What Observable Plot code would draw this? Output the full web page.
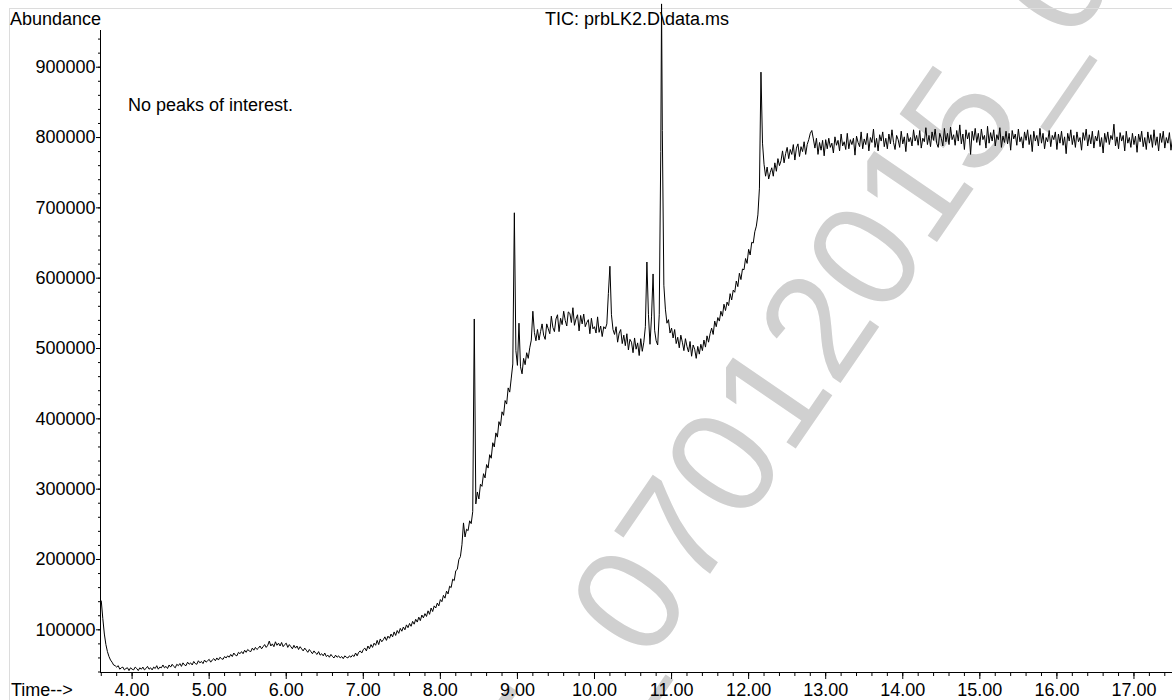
<!DOCTYPE html>
<html>
<head>
<meta charset="utf-8">
<script src="https://cdn.jsdelivr.net/npm/d3@7"></script>
<script src="https://cdn.jsdelivr.net/npm/@observablehq/plot@0.6"></script>
<style>
  html, body { margin: 0; padding: 0; background: #fff; }
  #wrap { position: relative; width: 1172px; height: 700px; overflow: hidden; background: #fff;
          font-family: "Liberation Sans", Arial, Helvetica, sans-serif; color: #000; }
  #wm { position: absolute; left: 0; top: 0; z-index: 0; }
  #pageframe { position: absolute; left: 9px; top: 8px; width: 2000px; height: 2000px;
               border-top: 1px solid #dcdcdc; border-left: 1px solid #dcdcdc; z-index: 1; }
  #chart { position: absolute; left: 0; top: 0; z-index: 2; }
  .lbl { position: absolute; font-size: 18px; line-height: 18px; white-space: nowrap; z-index: 3; }
</style>
</head>
<body>
<div id="wrap">
  <svg id="wm" width="1172" height="700">
    <text transform="translate(223.6,1284) rotate(-55.6)" font-family="Liberation Sans, Arial, sans-serif"
          font-size="150" fill="#d0d0d0">07012015_07012015_07012015</text>
  </svg>
  <div id="pageframe"></div>
  <div id="chart"></div>
  <span class="lbl" id="ylab" style="left:10px;top:10px;">Abundance</span>
  <span class="lbl" id="title" style="left:545px;top:10px;">TIC: prbLK2.D\data.ms</span>
  <span class="lbl" id="note" style="left:128px;top:96px;">No peaks of interest.</span>
  <span class="lbl" id="xlab" style="left:11px;top:681px;">Time--&gt;</span>
</div>
<script>
// Total ion chromatogram: [retention time (min), abundance (thousands of counts)]
const ticEarly = [
[3.60,141],[3.62,116],[3.64,94],[3.66,79],[3.68,69],[3.70,62],[3.72,57],[3.74,54],[3.76,50],[3.78,49],
[3.80,47],[3.82,49],[3.84,44],[3.86,46],[3.88,47],[3.90,43],[3.92,45],[3.94,46],[3.96,42],[3.98,46],
[4.00,44],[4.02,43],[4.04,47],[4.06,45],[4.08,42],[4.10,46],[4.12,44],[4.14,47],[4.16,43],[4.18,45],
[4.20,48],[4.22,44],[4.24,46],[4.26,43],[4.28,47],[4.30,45],[4.32,49],[4.34,44],[4.36,47],[4.38,46],
[4.40,50],[4.42,46],[4.44,48],[4.46,45],[4.48,50],[4.50,47],[4.52,51],[4.54,48],[4.56,46],[4.58,51],
[4.60,49],[4.62,52],[4.64,48],[4.66,53],[4.68,50],[4.70,49],[4.72,54],[4.74,51],[4.76,53],[4.78,50],
[4.80,55],[4.82,52],[4.84,51],[4.86,56],[4.88,53],[4.90,55],[4.92,52],[4.94,57],[4.96,54],[4.98,56],
[5.00,58],[5.02,54],[5.04,57],[5.06,59],[5.08,56],[5.10,60],[5.12,57],[5.14,61],[5.16,59],[5.18,58],
[5.20,62],[5.22,60],[5.24,63],[5.26,61],[5.28,65],[5.30,62],[5.32,67],[5.34,64],[5.36,63],[5.38,68],
[5.40,66],[5.42,69],[5.44,66],[5.46,71],[5.48,68],[5.50,72],[5.52,70],[5.54,69],[5.56,74],[5.58,71],
[5.60,75],[5.62,72],[5.64,74],[5.66,77],[5.68,73],[5.70,76],[5.72,79],[5.74,75],[5.76,78],[5.78,84],
[5.80,77],[5.82,80],[5.84,76],[5.86,83],[5.88,78],[5.90,81],[5.92,77],[5.94,82],[5.96,76],[5.98,79],
[6.00,81],[6.02,75],[6.04,79],[6.06,76],[6.08,73],[6.10,78],[6.12,74],[6.14,77],[6.16,72],[6.18,76],
[6.20,73],[6.22,70],[6.24,74],[6.26,71],[6.28,68],[6.30,72],[6.32,69],[6.34,66],[6.36,70],[6.38,67],
[6.40,65],[6.42,69],[6.44,64],[6.46,66],[6.48,63],[6.50,67],[6.52,62],[6.54,64],[6.56,61],[6.58,65],
[6.60,62],[6.62,60],[6.64,64],[6.66,61],[6.68,63],[6.70,60],[6.72,62],[6.74,59],[6.76,63],[6.78,61],
[6.80,60],[6.82,63],[6.84,61],[6.86,64],[6.88,62],[6.90,67],[6.92,63],[6.94,68],[6.96,70],[6.98,67],
[7.00,72]
];
const ticRise = [
[7.02,74],[7.04,70],[7.06,77],[7.08,73],[7.10,79],[7.12,75],[7.14,81],[7.16,78],[7.18,85],[7.20,79],
[7.22,87],[7.24,83],[7.26,86],[7.28,90],[7.30,85],[7.32,91],[7.34,88],[7.36,94],[7.38,90],[7.40,97],
[7.42,92],[7.44,99],[7.46,95],[7.48,102],[7.50,98],[7.52,104],[7.54,100],[7.56,107],[7.58,103],[7.60,109],
[7.62,105],[7.64,112],[7.66,108],[7.68,115],[7.70,111],[7.72,118],[7.74,113],[7.76,121],[7.78,117],[7.80,123],
[7.82,119],[7.84,127],[7.86,122],[7.88,131],[7.90,126],[7.92,134],[7.94,131],[7.96,138],[7.98,134],[8.00,143],
[8.02,140],[8.04,149],[8.06,145],[8.08,155],[8.10,151],[8.12,162],[8.14,160],[8.16,172],[8.18,170],[8.20,184],
[8.22,186],[8.24,200],[8.26,204],[8.28,221],[8.30,252],[8.32,232],[8.34,243],[8.36,241],[8.38,255],[8.40,251],
[8.42,268],[8.44,542],[8.46,279],[8.48,296],[8.50,286],[8.52,307],[8.54,304],[8.56,322],[8.58,316],[8.60,335],
[8.62,330],[8.64,349],[8.66,344],[8.68,366],[8.70,360],[8.72,380],[8.74,374],[8.76,396],[8.78,390],[8.80,410],
[8.82,405],[8.84,426],[8.86,421],[8.88,444],[8.90,438],[8.92,458],[8.94,478],[8.96,693],[8.98,497],[9.00,476],
[9.02,536],[9.04,474],[9.06,464],[9.08,486],[9.10,477],[9.12,494],[9.14,486],[9.16,501],[9.18,512],[9.20,553],
[9.22,523],[9.24,511]
];
const ticPlateau = [
[9.26,527],[9.28,512],[9.30,524],[9.32,535],[9.34,519],[9.36,513],[9.38,535],[9.40,528],[9.42,521],[9.44,546],
[9.46,530],[9.48,524],[9.50,542],[9.52,548],[9.54,524],[9.56,543],[9.58,534],[9.60,553],[9.62,540],[9.64,532],
[9.66,552],[9.68,550],[9.70,537],[9.72,558],[9.74,533],[9.76,542],[9.78,548],[9.80,525],[9.82,547],[9.84,535],
[9.86,549],[9.88,531],[9.90,537],[9.92,541],[9.94,521],[9.96,543],[9.98,528],[10.00,531],[10.02,522],[10.04,545],
[10.06,523],[10.08,532],[10.10,517],[10.12,531],[10.14,528],[10.16,535],[10.18,578],[10.20,617],[10.22,548],[10.24,527],
[10.26,520],[10.28,531],[10.30,509],[10.32,522],[10.34,527],[10.36,507],[10.38,519],[10.40,504],[10.42,521],[10.44,498],
[10.46,513],[10.48,509],[10.50,494],[10.52,515],[10.54,499],[10.56,508],[10.58,490],[10.60,514],[10.62,496],[10.64,509],
[10.66,531],[10.68,623],[10.70,548],[10.72,506],[10.74,545],[10.76,606],[10.78,526],[10.80,511],[10.82,505],[10.84,548],
[10.86,780],[10.87,990],[10.88,810],[10.90,590],[10.92,556],[10.94,536],[10.96,541],[10.98,522],[11.00,529],[11.02,515],
[11.04,527],[11.06,507],[11.08,516],[11.10,501],[11.12,519],[11.14,509],[11.16,497],[11.18,514],[11.20,503],[11.22,495],
[11.24,510],[11.26,489],[11.28,505],[11.30,499],[11.32,486],[11.34,503],[11.36,492],[11.38,506],[11.40,497],[11.42,512],
[11.44,502],[11.46,518],[11.48,509],[11.50,521],[11.52,529],[11.54,520],[11.56,539],[11.58,531],[11.60,544],[11.62,539],
[11.64,553],[11.66,546],[11.68,563],[11.70,554],[11.72,566],[11.74,561],[11.76,578],[11.78,569],[11.80,583],[11.82,580],
[11.84,596],[11.86,588],[11.88,607],[11.90,598],[11.92,613],[11.94,612],[11.96,628],[11.98,621],[12.00,641],[12.02,633],
[12.04,651],[12.06,650],[12.08,666],[12.10,674],[12.12,690],[12.14,728]
];
const ticLate = [
[12.16,893],[12.18,792],[12.20,762],[12.22,745],[12.24,758],[12.26,741],[12.28,750],[12.30,757],[12.32,745],[12.34,764],
[12.36,752],[12.38,770],[12.40,760],[12.42,767],[12.44,781],[12.46,764],[12.48,777],[12.50,786],[12.52,770],[12.54,783],
[12.56,776],[12.58,790],[12.60,768],[12.62,785],[12.64,791],[12.66,773],[12.68,787],[12.70,780],[12.72,794],[12.74,776],
[12.76,790],[12.78,797],[12.80,806],[12.82,810],[12.84,798],[12.86,785],[12.88,799],[12.90,776],[12.92,793],[12.94,782],
[12.96,796],[12.98,774],[13.00,797],[13.02,784],[13.04,799],[13.06,786],[13.08,792],[13.10,778],[13.12,801],[13.14,789],
[13.16,796],[13.18,781],[13.20,805],[13.22,788],[13.24,794],[13.26,783],[13.28,806],[13.30,784],[13.32,797],[13.34,790],
[13.36,799],[13.38,775],[13.40,802],[13.42,793],[13.44,787],[13.46,808],[13.48,784],[13.50,798],[13.52,790],[13.54,806],
[13.56,781],[13.58,800],[13.60,793],[13.62,812],[13.64,786],[13.66,799],[13.68,781],[13.70,804],[13.72,795],[13.74,808],
[13.76,787],[13.78,799],[13.80,784],[13.82,805],[13.84,791],[13.86,811],[13.88,793],[13.90,783],[13.92,803],[13.94,797],
[13.96,786],[13.98,809],[14.00,791],[14.02,801],[14.04,780],[14.06,806],[14.08,794],[14.10,800],[14.12,788],[14.14,811],
[14.16,795],[14.18,803],[14.20,789],[14.22,810],[14.24,785],[14.26,799],[14.28,794],[14.30,814],[14.32,790],[14.34,803],
[14.36,787],[14.38,808],[14.40,796],[14.42,812],[14.44,792],[14.46,786],[14.48,806],[14.50,799],[14.52,788],[14.54,813],
[14.56,794],[14.58,806],[14.60,790],[14.62,815],[14.64,797],[14.66,804],[14.68,789],[14.70,810],[14.72,795],[14.74,818],
[14.76,791],[14.78,805],[14.80,783],[14.82,811],[14.84,798],[14.86,807],[14.88,776],[14.90,809],[14.92,796],[14.94,813],
[14.96,793],[14.98,806],[15.00,789],[15.02,812],[15.04,797],[15.06,803],[15.08,785],[15.10,816],[15.12,792],[15.14,807],
[15.16,795],[15.18,811],[15.20,788],[15.22,804],[15.24,797],[15.26,814],[15.28,786],[15.30,802],[15.32,793],[15.34,809],
[15.36,791],[15.38,806],[15.40,782],[15.42,810],[15.44,798],[15.46,805],[15.48,789],[15.50,812],[15.52,794],[15.54,801],
[15.56,785],[15.58,808],[15.60,796],[15.62,811],[15.64,790],[15.66,804],[15.68,780],[15.70,809],[15.72,795],[15.74,803],
[15.76,788],[15.78,813],[15.80,792],[15.82,806],[15.84,784],[15.86,800],[15.88,794],[15.90,810],[15.92,787],[15.94,803],
[15.96,797],[15.98,808],[16.00,783],[16.02,805],[16.04,792],[16.06,809],[16.08,789],[16.10,801],[16.12,777],[16.14,806],
[16.16,795],[16.18,811],[16.20,790],[16.22,803],[16.24,786],[16.26,808],[16.28,794],[16.30,800],[16.32,782],[16.34,807],
[16.36,796],[16.38,812],[16.40,788],[16.42,804],[16.44,791],[16.46,809],[16.48,785],[16.50,802],[16.52,795],[16.54,810],
[16.56,787],[16.58,800],[16.60,778],[16.62,806],[16.64,793],[16.66,808],[16.68,790],[16.70,803],[16.72,797],[16.74,819],
[16.76,788],[16.78,801],[16.80,784],[16.82,807],[16.84,795],[16.86,803],[16.88,781],[16.90,809],[16.92,792],[16.94,800],
[16.96,786],[16.98,806],[17.00,790],[17.02,802],[17.04,779],[17.06,805],[17.08,794],[17.10,809],[17.12,787],[17.14,800],
[17.16,783],[17.18,808],[17.20,792],[17.22,804],[17.24,786],[17.26,811],[17.28,789],[17.30,801],[17.32,781],[17.34,806],
[17.36,793],[17.38,809],[17.40,785],[17.42,800],[17.44,792],[17.46,807],[17.48,782],[17.50,799]
];

// Axis tick labels and scale extents
const xTickValues = [4, 5, 6, 7, 8, 9, 10, 11, 12, 13, 14, 15, 16, 17];
const yTickValues = [100000, 200000, 300000, 400000, 500000, 600000, 700000, 800000, 900000];
const xDomain = [3.59, 17.5];
const yDomain = [39300, 952200];

const xMinorTicks = d3.range(36, 176, 2).map(d => d / 10);
const yMinorTicks = d3.range(40000, 960000, 20000);

const trace = [...ticEarly, ...ticRise, ...ticPlateau, ...ticLate]
  .map(([time, k]) => ({time, abundance: k * 1000}));

const chart = Plot.plot({
  width: 1172,
  height: 700,
  marginLeft: 100,
  marginRight: 0,
  marginTop: 30,
  marginBottom: 28,
  style: {
    background: "transparent",
    fontFamily: "'Liberation Sans', Arial, Helvetica, sans-serif",
    fontSize: "18px",
    color: "#000",
    overflow: "visible"
  },
  x: {domain: xDomain, label: null},
  y: {domain: yDomain, label: null},
  marks: [
    Plot.axisX(xMinorTicks, {anchor: "bottom", tickSize: 4, tickFormat: () => "", label: null}),
    Plot.axisX(xTickValues, {anchor: "bottom", tickSize: 7, tickPadding: 4, tickFormat: d => d.toFixed(2), label: null}),
    Plot.axisY(yMinorTicks, {anchor: "left", tickSize: 2, tickFormat: () => "", label: null}),
    Plot.axisY(yTickValues, {anchor: "left", tickSize: 4, tickPadding: 1, tickFormat: d3.format("d"), label: null}),
    Plot.ruleX([xDomain[0]], {stroke: "#000"}),
    Plot.ruleY([yDomain[0]], {stroke: "#000"}),
    Plot.line(trace, {x: "time", y: "abundance", stroke: "#000", strokeWidth: 1})
  ]
});
document.getElementById("chart").appendChild(chart);
</script>
</body>
</html>
